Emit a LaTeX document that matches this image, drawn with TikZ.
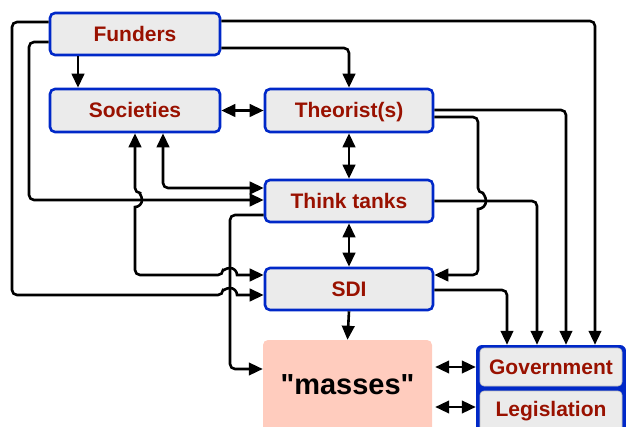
\documentclass[tikz,border=0pt]{standalone}
\usepackage{fontspec}
\setmainfont{Liberation Sans}
\newfontfamily\plainquotes{Liberation Sans}[Ligatures=TeXOff]
\usetikzlibrary{arrows.meta,calc}
\definecolor{boxblue}{RGB}{0,40,200}
\definecolor{boxred}{RGB}{153,17,0}
\definecolor{boxgray}{RGB}{235,235,235}
\definecolor{massfill}{RGB}{255,204,190}
\begin{document}
\begin{tikzpicture}[x=1pt,y=1pt,
  boxtext/.style={text=boxred, font=\fontsize{21}{24}\selectfont\bfseries},
  box/.style={boxtext, draw=boxblue, line width=2.6pt, fill=boxgray, rounded corners=5pt,
    minimum width=170pt, minimum height=42pt, inner sep=0pt, text height=15pt, text depth=0pt},
  innerbox/.style={boxtext, fill=boxgray, draw=black!25, line width=0.6pt, rounded corners=4pt,
    minimum width=142pt, inner sep=0pt, text height=15pt, text depth=0pt},
  tip/.tip={Triangle[length=14pt,width=12.5pt]},
  conn/.style={line width=2.6pt, rounded corners=5pt, -tip},
  both/.style={line width=2.6pt, rounded corners=5pt, tip-tip},
]
\useasboundingbox (0,0) rectangle (626,-427);

% nodes
\node[box] (funders) at (135,-34) {Funders};
\node[box, minimum height=43pt] (societies) at (135,-110.5) {Societies};
\node[box, minimum width=168pt, minimum height=43pt] (theorist) at (349,-110.5) {Theorist(s)};
\node[box, minimum width=168pt] (think) at (349,-201) {Think tanks};
\node[box, minimum width=168pt] (sdi) at (349,-289) {SDI};

\node[fill=massfill, rounded corners=5pt, minimum width=169pt, minimum height=100pt, inner sep=0pt] (masses) at (347.5,-390) {};
\node[anchor=base, font=\plainquotes\fontsize{29}{32}\selectfont\bfseries, inner sep=0pt] (massestext) at (347.5,-394) {"masses"};

\node[fill=boxblue, rounded corners=6pt, minimum width=150pt, minimum height=100pt, inner sep=0pt] (govgroup) at (551,-395) {};
\node[innerbox, minimum height=38pt] (gov) at (551,-367) {Government};
\node[innerbox, minimum height=54pt] (legis) at (551,-418) {};
\node[boxtext, anchor=base, inner sep=0pt] (legistext) at (551,-416) {Legislation};

% connectors
\draw[conn] (funders.west |- 0,-22) -- (12,-22) -- (12,-295) -- (223,-295)
  [sharp corners] arc[start angle=180,end angle=0,radius=7pt] [rounded corners=5pt]
  -- (sdi.west |- 0,-295);
\draw[conn] (funders.west |- 0,-42) -- (29,-42) -- (29,-200) -- (think.west |- 0,-200);
\draw[conn] (funders.south -| 78,0) -- (societies.north -| 78,0);
\draw[conn] (funders.east |- 0,-21) -- (595,-21) -- (govgroup.north -| 595,0);
\draw[conn] (funders.east |- 0,-48) -- (theorist.north |- 0,-48) -- (theorist.north);
\draw[both] (societies.east) -- (theorist.west);
\draw[conn] (theorist.east |- 0,-110) -- (566,-110) -- (govgroup.north -| 566,0);
\draw[conn] (theorist.east |- 0,-117) -- (478,-117) -- (478,-193)
  [sharp corners] arc[start angle=90,end angle=-90,radius=8pt] [rounded corners=5pt]
  -- (478,-275) -- (sdi.east |- 0,-275);
\draw[both] (theorist.south) -- (think.north);
\draw[both] (think.west |- 0,-188) -- (163,-188) -- (societies.south -| 163,0);
\draw[both] (societies.south) -- (135,-193)
  [sharp corners] arc[start angle=90,end angle=-90,radius=7pt] [rounded corners=5pt]
  -- (135,-275) -- (223,-275)
  [sharp corners] arc[start angle=180,end angle=0,radius=7pt] [rounded corners=5pt]
  -- (sdi.west |- 0,-275);
\draw[conn] (think.west |- 0,-215) -- (230,-215) -- (230,-369) -- (masses.west |- 0,-369);
\draw[both] (think.south) -- (sdi.north);
\draw[conn] (think.east |- 0,-201) -- (537,-201) -- (govgroup.north -| 537,0);
\draw[conn] (sdi.east |- 0,-290) -- (507,-290) -- (govgroup.north -| 507,0);
\draw[conn] (sdi.south) -- (masses.north);
\draw[both, shorten <=3pt] (masses.east |- 0,-367) -- (govgroup.west |- 0,-367);
\draw[both, shorten <=3pt] (masses.east |- 0,-407) -- (govgroup.west |- 0,-407);
\end{tikzpicture}
\end{document}
